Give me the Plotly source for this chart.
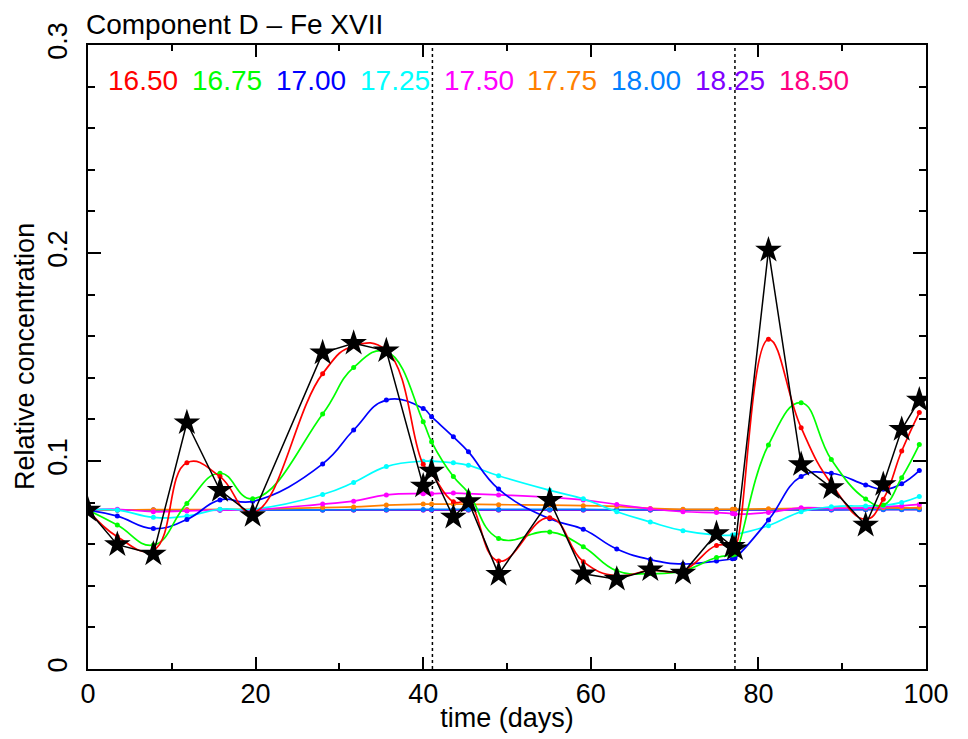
import plotly.graph_objects as go

# sampling times (days)
t = [0, 3.5, 7.8, 11.8, 15.75, 19.65, 28.0, 31.7, 35.6, 40.0, 41.0, 43.6, 45.4, 49.0,
     55.1, 59.1, 63.1, 67.1, 71.0, 75.0, 76.9, 77.2, 81.2, 85.1, 88.7, 92.8, 94.9, 97.1, 99.2]

# observed (black stars)
obs = [0.0764, 0.0598, 0.0553, 0.1184, 0.0859, 0.0738, 0.1520, 0.1566, 0.1530, 0.0880, 0.0952,
       0.0730, 0.0805, 0.0455, 0.0811, 0.0458, 0.0432, 0.0477, 0.0461, 0.0651, 0.0590, 0.0578,
       0.2014, 0.0983, 0.0872, 0.0692, 0.0887, 0.1152, 0.1293]

# model curves, one per log density
c1650 = [0.0764, 0.0636, 0.0572, 0.0992, 0.0925, 0.0752, 0.1420, 0.1553, 0.1532, 0.0984, 0.0940,
         0.0804, 0.0800, 0.0519, 0.0727, 0.0516, 0.0448, 0.0474, 0.0474, 0.0594, 0.0590, 0.0586,
         0.1585, 0.1160, 0.0891, 0.0720, 0.0816, 0.1048, 0.1233]
c1675 = [0.0764, 0.0692, 0.0596, 0.0796, 0.0941, 0.0818, 0.1226, 0.1450, 0.1526, 0.1189, 0.1092,
         0.0925, 0.0846, 0.0628, 0.0659, 0.0588, 0.0472, 0.0459, 0.0472, 0.0536, 0.0548, 0.0552,
         0.1077, 0.1280, 0.1007, 0.0817, 0.0788, 0.0920, 0.1079]
c1700 = [0.0764, 0.0735, 0.0675, 0.0719, 0.0813, 0.0806, 0.0986, 0.1149, 0.1293, 0.1252, 0.1213,
         0.1116, 0.1044, 0.0865, 0.0722, 0.0672, 0.0577, 0.0526, 0.0505, 0.0519, 0.0530, 0.0534,
         0.0716, 0.0925, 0.0941, 0.0885, 0.0864, 0.0891, 0.0954]
c1725 = [0.0764, 0.0764, 0.0729, 0.0735, 0.0768, 0.0768, 0.0839, 0.0897, 0.0973, 0.0999, 0.0999,
         0.0991, 0.0979, 0.0929, 0.0859, 0.0818, 0.0756, 0.0707, 0.0665, 0.0644, 0.0644, 0.0646,
         0.0689, 0.0756, 0.0780, 0.0784, 0.0786, 0.0801, 0.0829]
c1750 = [0.0764, 0.0768, 0.0756, 0.0760, 0.0764, 0.0766, 0.0793, 0.0807, 0.0837, 0.0843, 0.0843,
         0.0846, 0.0843, 0.0837, 0.0825, 0.0813, 0.0791, 0.0770, 0.0756, 0.0752, 0.0747, 0.0745,
         0.0753, 0.0775, 0.0772, 0.0775, 0.0780, 0.0784, 0.0791]
c1775 = [0.0764, 0.0765, 0.0766, 0.0766, 0.0767, 0.0768, 0.0776, 0.0779, 0.0788, 0.0793, 0.0793,
         0.0793, 0.0792, 0.0790, 0.0788, 0.0785, 0.0782, 0.0772, 0.0768, 0.0768, 0.0768, 0.0768,
         0.0770, 0.0772, 0.0773, 0.0774, 0.0775, 0.0775, 0.0776]
c1800 = [0.0764, 0.0764, 0.0764, 0.0764, 0.0764, 0.0765, 0.0765, 0.0766, 0.0766, 0.0767, 0.0767,
         0.0767, 0.0767, 0.0767, 0.0767, 0.0767, 0.0766, 0.0766, 0.0766, 0.0766, 0.0766, 0.0766,
         0.0766, 0.0766, 0.0766, 0.0767, 0.0767, 0.0767, 0.0767]
c1825 = [0.0764, 0.0764, 0.0764, 0.0764, 0.0764, 0.0764, 0.0764, 0.0765, 0.0765, 0.0765, 0.0765,
         0.0765, 0.0765, 0.0765, 0.0765, 0.0765, 0.0765, 0.0765, 0.0765, 0.0765, 0.0765, 0.0765,
         0.0765, 0.0765, 0.0765, 0.0766, 0.0766, 0.0766, 0.0766]
c1850 = [0.0764, 0.0764, 0.0764, 0.0764, 0.0764, 0.0764, 0.0764, 0.0764, 0.0764, 0.0764, 0.0764,
         0.0764, 0.0764, 0.0764, 0.0764, 0.0764, 0.0764, 0.0764, 0.0764, 0.0764, 0.0764, 0.0764,
         0.0765, 0.0766, 0.0767, 0.0768, 0.0769, 0.0770, 0.0771]

labels = ["16.50", "16.75", "17.00", "17.25", "17.50", "17.75", "18.00", "18.25", "18.50"]
colors = ["#ff0000", "#00ff00", "#0000ff", "#00ffff", "#ff00ff", "#ff8000", "#0080ff", "#8000ff", "#ff0080"]
curves = [c1650, c1675, c1700, c1725, c1750, c1775, c1800, c1825, c1850]

# where the labels sit (data coords)
label_x = [2.2, 12.2, 22.2, 32.2, 42.2, 52.2, 62.2, 72.2, 82.2]
label_y = 0.283

# dotted reference epochs
epochs = [41.1, 77.2]

FONT = "Liberation Sans, Arial, sans-serif"

fig = go.Figure()

# reference lines
for e in epochs:
    fig.add_trace(go.Scatter(x=[e, e], y=[0, 0.3], mode='lines',
                             line=dict(color='black', width=1.5, dash='dot'),
                             hoverinfo='skip', showlegend=False))

# model curves, high densities underneath
for lab, col, ys in reversed(list(zip(labels, colors, curves))):
    fig.add_trace(go.Scatter(
        x=t, y=ys, mode='lines+markers', name=lab,
        line=dict(color=col, width=1.7, shape='spline', smoothing=1.3),
        marker=dict(color=col, size=5),
        showlegend=False
    ))

# observed
fig.add_trace(go.Scatter(
    x=t, y=obs, mode='lines+markers', name='observed',
    line=dict(color='black', width=1.5),
    marker=dict(symbol='star', color='black', size=20, line=dict(width=0)),
    showlegend=False
))

# colored density labels
for lab, col, lx in zip(labels, colors, label_x):
    fig.add_annotation(x=lx, y=label_y, xref='x', yref='y', text=lab, showarrow=False,
                       xanchor='left', yanchor='middle',
                       font=dict(family=FONT, size=28, color=col))

# title top-left
fig.add_annotation(x=0, y=1, xref='paper', yref='paper', text="Component D \u2013 Fe XVII",
                   showarrow=False, xanchor='left', yanchor='bottom', yshift=3, xshift=-4,
                   font=dict(family=FONT, size=28, color='black'))

# y axis title placed by hand (axis titles get clamped inside the margin)
fig.add_annotation(x=0, y=0.5, xref='paper', yref='paper', text="Relative concentration",
                   showarrow=False, textangle=-90, xanchor='center', yanchor='middle',
                   xshift=-63, borderpad=0, font=dict(family=FONT, size=27, color='black'))

# page body has an 8px margin, so the figure is 8px smaller than the window
fig.update_layout(
    width=960, height=731,
    margin=dict(l=80, r=42, t=37, b=70),
    plot_bgcolor='white', paper_bgcolor='white',
    font=dict(family=FONT, size=27, color='black'),
    showlegend=False
)

fig.update_xaxes(
    range=[0, 100], dtick=20, tick0=0,
    showgrid=False, zeroline=False, automargin=False,
    showline=True, linecolor='black', linewidth=2, mirror='ticks',
    ticks='inside', ticklen=12, tickwidth=1.5, tickcolor='black',
    minor=dict(dtick=10, ticks='inside', ticklen=6, tickwidth=1.5, tickcolor='black'),
    title=dict(text="time (days)", standoff=0, font=dict(size=27)),
)

fig.update_yaxes(
    range=[0, 0.3], dtick=0.1, tick0=0,
    showgrid=False, zeroline=False, automargin=False,
    showline=True, linecolor='black', linewidth=2, mirror='ticks',
    ticks='inside', ticklen=13, tickwidth=1.5, tickcolor='black',
    minor=dict(dtick=0.02, ticks='inside', ticklen=7, tickwidth=1.5, tickcolor='black'),
    tickangle=-90, ticklabelstandoff=8,
)

fig.write_html("out.html")
